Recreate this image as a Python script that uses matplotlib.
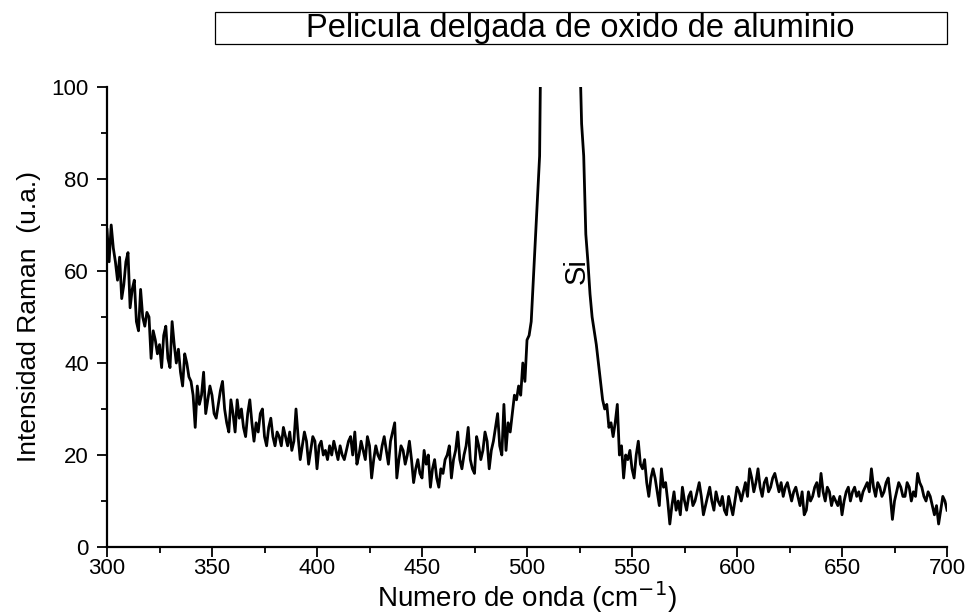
import matplotlib.pyplot as plt
import numpy as np

# Raman intensity, 1 cm-1 steps
wn_low = np.arange(300, 496)
int_low = [69, 62, 70, 65, 62, 58, 63, 54, 57, 62,
           64, 52, 56, 58, 49, 47, 56, 50, 48, 51,
           50, 41, 47, 45, 42, 44, 39, 46, 48, 41,
           39, 49, 44, 40, 43, 38, 35, 42, 40, 37,
           36, 33, 26, 35, 31, 33, 38, 29, 32, 35,
           33, 29, 28, 31, 34, 36, 30, 27, 25, 32,
           29, 25, 32, 28, 30, 26, 24, 29, 32, 27,
           23, 27, 25, 29, 30, 24, 22, 26, 28, 24,
           22, 25, 24, 22, 26, 24, 22, 25, 21, 23,
           30, 24, 19, 22, 25, 23, 18, 21, 24, 23,
           17, 22, 23, 20, 21, 19, 22, 20, 23, 21,
           19, 22, 20, 19, 21, 23, 24, 20, 25, 18,
           20, 23, 21, 19, 24, 22, 15, 19, 22, 20,
           19, 22, 24, 21, 18, 23, 25, 27, 15, 19,
           22, 21, 18, 20, 23, 19, 14, 17, 19, 16,
           15, 21, 18, 20, 13, 17, 19, 15, 13, 17,
           16, 19, 20, 22, 15, 19, 21, 25, 19, 17,
           20, 22, 26, 19, 17, 16, 24, 22, 19, 21,
           25, 23, 17, 21, 23, 26, 29, 22, 20, 31,
           21, 27, 25, 29, 33, 32]

wn_peak = [496, 497, 498, 499, 500, 501, 502, 503, 504, 505, 506, 507,
           508, 510, 512, 514, 516, 518, 520, 522, 524, 525, 526, 527,
           528, 529, 530, 531, 532, 533, 534, 535, 536, 537, 538, 539,
           540, 541, 542, 543, 544, 545, 546, 547]
int_peak = [35, 33, 40, 36, 45, 46, 49, 58, 67, 76, 85, 130,
            160, 260, 400, 500, 520, 480, 380, 260, 150, 110, 92, 85,
            68, 62, 55, 50, 47, 44, 40, 36, 32, 30, 31, 26,
            27, 24, 27, 31, 20, 22, 15, 20]

wn_high = np.arange(548, 701)
int_high = [19, 21, 17, 15, 20, 23, 18, 17, 19, 14, 11, 15,
            17, 15, 12, 9, 17, 13, 14, 10, 5, 9,
            12, 8, 10, 7, 13, 10, 8, 11, 12, 9,
            10, 12, 14, 11, 7, 9, 11, 13, 10, 8,
            12, 10, 9, 11, 8, 7, 11, 9, 7, 10,
            13, 12, 10, 12, 14, 11, 17, 15, 12, 14,
            17, 13, 11, 14, 15, 12, 13, 15, 16, 14,
            12, 14, 11, 13, 14, 12, 10, 12, 13, 11,
            9, 12, 7, 8, 12, 10, 11, 13, 14, 11,
            16, 12, 10, 13, 12, 9, 11, 10, 9, 11,
            7, 10, 12, 13, 10, 12, 13, 11, 12, 10,
            12, 13, 14, 12, 17, 13, 11, 14, 13, 11,
            12, 14, 15, 11, 6, 10, 12, 14, 13, 11,
            11, 14, 13, 10, 12, 11, 16, 14, 13, 11,
            10, 12, 11, 9, 7, 9, 5, 8, 11, 10, 8]

wn = np.concatenate([wn_low, wn_peak, wn_high])
intensity = np.array(int_low + int_peak + int_high)

fam = ["Liberation Sans", "DejaVu Sans"]

fig = plt.figure(figsize=(9.71, 6.16), dpi=100)
ax = fig.add_axes([0.1102, 0.112, 0.8651, 0.7468])

ax.plot(wn, intensity, color="black", lw=2.0)
ax.set_xlim(300, 700)
ax.set_ylim(0, 100)

ax.spines["top"].set_visible(False)
ax.spines["right"].set_visible(False)
for s in ["left", "bottom"]:
    ax.spines[s].set_linewidth(1.6)

ax.set_xticks(np.arange(300, 701, 50))
ax.set_xticks(np.arange(300, 701, 25), minor=True)
ax.set_yticks(np.arange(0, 101, 20))
ax.set_yticks(np.arange(0, 101, 10), minor=True)
ax.tick_params(which="major", direction="out", length=7, width=1.3, labelsize=16)
ax.tick_params(which="minor", direction="out", length=4, width=1.3)
ax.tick_params(axis="y", pad=6)
ax.tick_params(axis="x", pad=1)
for lab in ax.get_xticklabels() + ax.get_yticklabels():
    lab.set_family(fam)

ax.set_xlabel("Numero de onda (cm$^{-1}$)", fontsize=20, family=fam, labelpad=0)
ax.set_ylabel("Intensidad Raman  (u.a.)", fontsize=19, family=fam, labelpad=8)

ax.text(523.8, 60, "Si", rotation=90, fontsize=21, ha="center", va="center",
        family=fam)

fig.text(0.598, 0.9545, "Pelicula delgada de oxido de aluminio", fontsize=23.5,
         ha="center", va="center", family=fam)
fig.patches.append(plt.Rectangle((215 / 971, 1 - 44 / 616), 732 / 971, 32 / 616,
                                 transform=fig.transFigure, fill=False,
                                 edgecolor="black", lw=0.9))

fig.savefig("out.png", dpi=100)
